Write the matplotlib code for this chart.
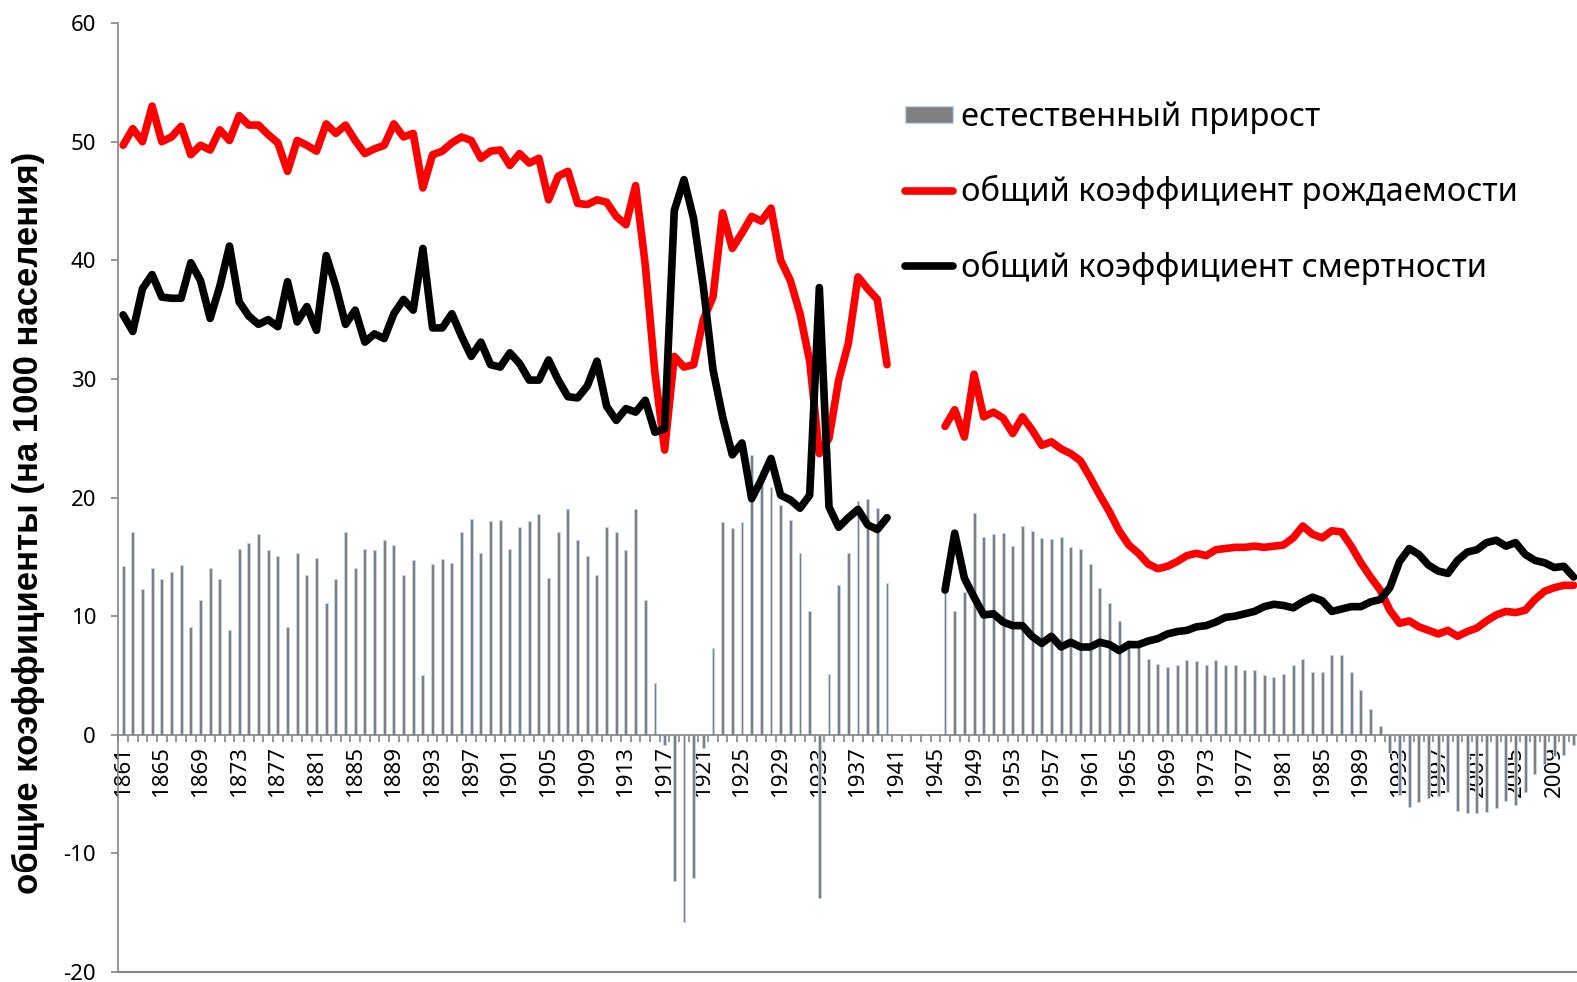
import numpy as np
import matplotlib
matplotlib.use("Agg")
import matplotlib.pyplot as plt
from matplotlib.patches import Patch
from matplotlib.lines import Line2D

plt.rcParams['font.family'] = ['Noto Sans', 'DejaVu Sans']
plt.rcParams['axes.unicode_minus'] = False

# Data: Russia 1861-2011, per 1000 population (1941-1945 missing)
years = list(range(1861, 2012))
gap = [np.nan] * 5

birth_rate = [
    49.7, 51.1, 50.0, 53.0, 50.0, 50.4, 51.3, 48.9, 49.7, 49.3,
    51.0, 50.1, 52.2, 51.4, 51.4, 50.6, 49.9, 47.5, 50.1, 49.7,
    49.2, 51.5, 50.7, 51.4, 50.1, 49.0, 49.4, 49.7, 51.5, 50.4,
    50.7, 46.1, 48.9, 49.2, 49.9, 50.4, 50.1, 48.6, 49.2, 49.3,
    48.0, 49.0, 48.2, 48.6, 45.1, 47.1, 47.5, 44.8, 44.7, 45.1,
    44.9, 43.7, 43.0, 46.3, 39.6, 30.5, 24.0, 31.9, 31.0, 31.2,
    35.0, 36.9, 44.0, 41.0, 42.3, 43.7, 43.3, 44.4, 40.0, 38.3,
    35.5, 31.5, 23.7, 25.0, 29.9, 33.0, 38.6, 37.6, 36.7, 31.2,
] + gap + [
    26.0, 27.4, 25.1, 30.4, 26.8, 27.2, 26.7, 25.4, 26.8, 25.7,
    24.4, 24.7, 24.1, 23.7, 23.1, 21.7, 20.2, 18.8, 17.2, 16.0,
    15.3, 14.4, 14.0, 14.2, 14.6, 15.1, 15.3, 15.1, 15.6, 15.7,
    15.8, 15.8, 15.9, 15.8, 15.9, 16.0, 16.6, 17.6, 16.9, 16.6,
    17.2, 17.1, 15.9, 14.5, 13.3, 12.2, 10.5, 9.4, 9.6, 9.1,
    8.8, 8.5, 8.8, 8.3, 8.7, 9.0, 9.6, 10.1, 10.4, 10.3,
    10.5, 11.4, 12.1, 12.4, 12.6, 12.6,
]

death_rate = [
    35.4, 34.0, 37.6, 38.8, 36.9, 36.8, 36.8, 39.8, 38.3, 35.1,
    37.8, 41.2, 36.5, 35.3, 34.6, 35.0, 34.4, 38.2, 34.8, 36.1,
    34.1, 40.4, 37.8, 34.6, 35.8, 33.1, 33.8, 33.4, 35.5, 36.7,
    35.8, 41.0, 34.3, 34.3, 35.5, 33.6, 31.9, 33.1, 31.2, 31.0,
    32.2, 31.3, 29.9, 29.9, 31.6, 29.9, 28.5, 28.4, 29.4, 31.5,
    27.7, 26.5, 27.5, 27.2, 28.2, 25.5, 25.8, 44.2, 46.8, 43.5,
    37.8, 30.8, 26.8, 23.6, 24.6, 19.9, 21.5, 23.3, 20.2, 19.8,
    19.1, 20.2, 37.7, 19.2, 17.5, 18.3, 19.0, 17.7, 17.3, 18.3,
] + gap + [
    12.2, 17.0, 13.2, 11.6, 10.1, 10.2, 9.5, 9.2, 9.2, 8.3,
    7.7, 8.3, 7.4, 7.8, 7.4, 7.4, 7.8, 7.6, 7.1, 7.6,
    7.6, 7.9, 8.1, 8.5, 8.7, 8.8, 9.1, 9.2, 9.5, 9.9,
    10.0, 10.2, 10.4, 10.8, 11.0, 10.9, 10.7, 11.2, 11.6, 11.3,
    10.4, 10.6, 10.8, 10.8, 11.2, 11.4, 12.4, 14.6, 15.7, 15.2,
    14.3, 13.8, 13.6, 14.7, 15.4, 15.6, 16.2, 16.4, 15.9, 16.2,
    15.2, 14.7, 14.5, 14.1, 14.2, 13.3,
]

natural_increase = [
    14.2, 17.1, 12.3, 14.1, 13.1, 13.7, 14.3, 9.1, 11.4, 14.1,
    13.1, 8.8, 15.7, 16.2, 16.9, 15.6, 15.1, 9.1, 15.3, 13.5,
    14.9, 11.1, 13.1, 17.1, 14.1, 15.7, 15.6, 16.4, 16.0, 13.5,
    14.7, 5.0, 14.4, 14.8, 14.5, 17.1, 18.2, 15.3, 18.0, 18.1,
    15.7, 17.5, 18.0, 18.6, 13.2, 17.1, 19.0, 16.4, 15.1, 13.5,
    17.5, 17.1, 15.6, 19.0, 11.4, 4.4, -0.9, -12.3, -15.8, -12.1,
    -1.1, 7.3, 17.9, 17.4, 17.9, 23.6, 22.3, 20.9, 19.4, 18.1,
    15.3, 10.4, -13.8, 5.1, 12.6, 15.3, 19.7, 19.9, 19.1, 12.8,
] + gap + [
    13.8, 10.4, 12.0, 18.7, 16.7, 16.9, 17.0, 15.9, 17.6, 17.2,
    16.6, 16.5, 16.7, 15.8, 15.7, 14.4, 12.4, 11.1, 9.6, 8.0,
    7.4, 6.4, 6.0, 5.7, 5.9, 6.3, 6.2, 5.9, 6.3, 5.9,
    5.9, 5.5, 5.5, 5.0, 4.9, 5.1, 5.9, 6.4, 5.3, 5.3,
    6.7, 6.7, 5.3, 3.8, 2.2, 0.7, -1.5, -5.1, -6.1, -5.7,
    -5.3, -5.2, -4.8, -6.4, -6.6, -6.6, -6.5, -6.2, -5.6, -5.9,
    -4.8, -3.3, -2.5, -1.8, -1.7, -0.9,
]

x = np.arange(len(years))
grey = '#868686'

fig = plt.figure(figsize=(15.77, 9.82), dpi=100)
ax = fig.add_axes([0.075, 0.0102, 0.9259, 0.9663])

ax.bar(x, natural_increase, width=0.3, color='#7f7f7f', edgecolor='#c6d9f0',
       linewidth=0.6, zorder=2)
ax.plot(x, birth_rate, color='#ff0000', lw=5.5, solid_capstyle='round',
        solid_joinstyle='round', zorder=3)
ax.plot(x, death_rate, color='black', lw=5.5, solid_capstyle='round',
        solid_joinstyle='round', zorder=4)

ax.set_xlim(-0.5, len(years) - 0.5)
ax.set_ylim(-20, 60)

# axes styling (Excel look)
for s in ['top', 'right']:
    ax.spines[s].set_visible(False)
ax.spines['left'].set_color(grey)
ax.spines['left'].set_linewidth(1.2)
ax.spines['bottom'].set_position(('data', 0))
ax.spines['bottom'].set_color(grey)
ax.spines['bottom'].set_linewidth(1.2)
ax.axhline(-20, color=grey, lw=1.5, clip_on=False, zorder=1)

ax.set_yticks(range(-20, 61, 10))
ax.tick_params(axis='y', direction='out', length=5, width=1.2, color=grey,
               labelsize=16, pad=11)

ax.set_xticks(x[::4])
ax.set_xticklabels([str(y) for y in years[::4]], rotation=90)
ax.set_xticks(np.arange(len(years) + 1) - 0.5, minor=True)
ax.tick_params(axis='x', which='major', length=0, labelsize=16, pad=8)
ax.tick_params(axis='x', which='minor', direction='out', length=5, width=1.2,
               color=grey)

fig.text(0.018, 1 - 523 / 982, 'общие коэффициенты (на 1000 населения)',
         rotation=90, fontsize=25, fontweight='bold',
         family=['Liberation Sans', 'DejaVu Sans'], ha='center', va='center')

handles = [
    Patch(facecolor='#808080', edgecolor='#c6d9f0', linewidth=1.0),
    Line2D([], [], color='#ff0000', lw=5.5, solid_capstyle='round'),
    Line2D([], [], color='black', lw=5.5, solid_capstyle='round'),
]
labels = ['естественный прирост', 'общий коэффициент рождаемости',
          'общий коэффициент смертности']
fig.legend(handles, labels, loc='upper left', bbox_to_anchor=(0.574, 0.897),
           frameon=False, fontsize=23.5, handlelength=1.45, handleheight=0.45,
           handletextpad=0.25, labelspacing=1.26, borderpad=0, borderaxespad=0)

fig.savefig('out.png', dpi=100)
